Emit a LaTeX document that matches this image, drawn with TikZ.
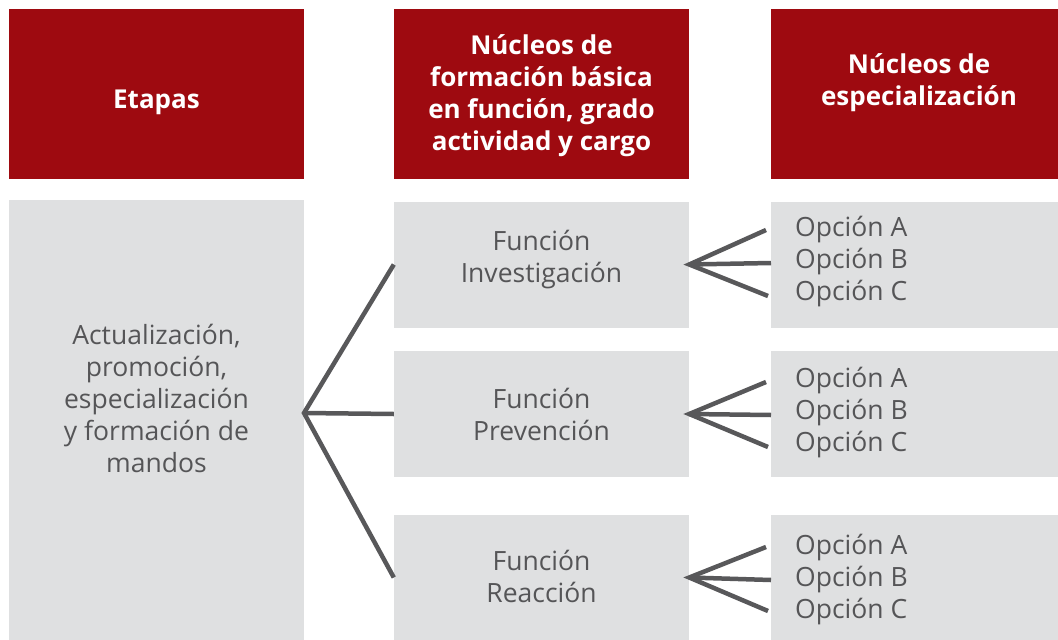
\documentclass[tikz,border=0pt]{standalone}
\usepackage{fontspec}
\setmainfont{Open Sans}
\definecolor{hdrred}{HTML}{9E0A10}
\definecolor{boxgray}{HTML}{DFE0E1}
\definecolor{txtgray}{HTML}{555557}
\definecolor{lngray}{HTML}{58585A}
\begin{document}
\begin{tikzpicture}[x=1pt,y=-1pt,
  hdr/.style={fill=hdrred, inner sep=0, minimum width=295, minimum height=170},
  hdrtxt/.style={text=white, font=\fontsize{26}{32}\selectfont\bfseries, align=center, inner sep=0},
  gbox/.style={fill=boxgray, inner sep=0, minimum width=295},
  gtxt/.style={text=txtgray, font=\fontsize{26.5}{32}\selectfont, align=center, inner sep=0},
  opt/.style={text=txtgray, font=\fontsize{26.5}{32}\selectfont, align=left, inner sep=0, anchor=west},
  conn/.style={draw=lngray, line width=4.5pt}]
\useasboundingbox (0,0) rectangle (1058,640);
% headers
\node[hdr] (h1) at (156.5,94) {};
\node[hdrtxt] (h1t) at (156.5,102) {Etapas};
\node[hdr] (h2) at (541.5,94) {};
\node[hdrtxt] (h2t) at (541.5,96) {Núcleos de\\formación básica\\en función, grado\\actividad y cargo};
\node[hdr, minimum width=296] (h3) at (919,94) {};
\node[hdrtxt] (h3t) at (919,83) {Núcleos de\\especialización};
% left box
\node[gbox, minimum height=440] (L) at (156.5,420) {};
\node[gtxt] (Lt) at (156.5,398) {Actualización,\\promoción,\\especialización\\y formación de\\mandos};
% middle boxes
\node[gbox, minimum height=126] (m1) at (541.5,264.5) {};
\node[gtxt] (m1t) at (541.5,260) {Función\\Investigación};
\node[gbox, minimum height=126] (m2) at (541.5,414) {};
\node[gtxt] (m2t) at (541.5,414) {Función\\Prevención};
\node[gbox, minimum height=125] (m3) at (541.5,577.5) {};
\node[gtxt] (m3t) at (541.5,576) {Función\\Reacción};
% right boxes
\node[gbox, minimum width=296, minimum height=126] (r1) at (919,264.5) {};
\node[gbox, minimum width=296, minimum height=126] (r2) at (919,414) {};
\node[gbox, minimum width=296, minimum height=125] (r3) at (919,577.5) {};
\node[opt] (o1) at (795,262) {Opción A\\Opción B\\Opción C};
\node[opt] (o2) at (795,413) {Opción A\\Opción B\\Opción C};
\node[opt] (o3) at (795,580) {Opción A\\Opción B\\Opción C};
% left fan
\coordinate (lf) at (304,413);
\draw[conn] (m1.west) -- (lf) -- (m3.west);
\draw[conn] (lf) -- (m2.west);
% right fans
\coordinate (a1) at (766,230);
\coordinate (b1) at (771,263);
\coordinate (c1) at (768,296);
\draw[conn] (a1) -- (m1.east) -- (c1);
\draw[conn] (m1.east) -- (b1);
\coordinate (a2) at (766,382);
\coordinate (b2) at (771,415);
\coordinate (c2) at (768,447);
\draw[conn] (a2) -- (m2.east) -- (c2);
\draw[conn] (m2.east) -- (b2);
\coordinate (a3) at (766,547);
\coordinate (b3) at (771,580);
\coordinate (c3) at (768,611);
\draw[conn] (a3) -- (m3.east) -- (c3);
\draw[conn] (m3.east) -- (b3);
\end{tikzpicture}
\end{document}
